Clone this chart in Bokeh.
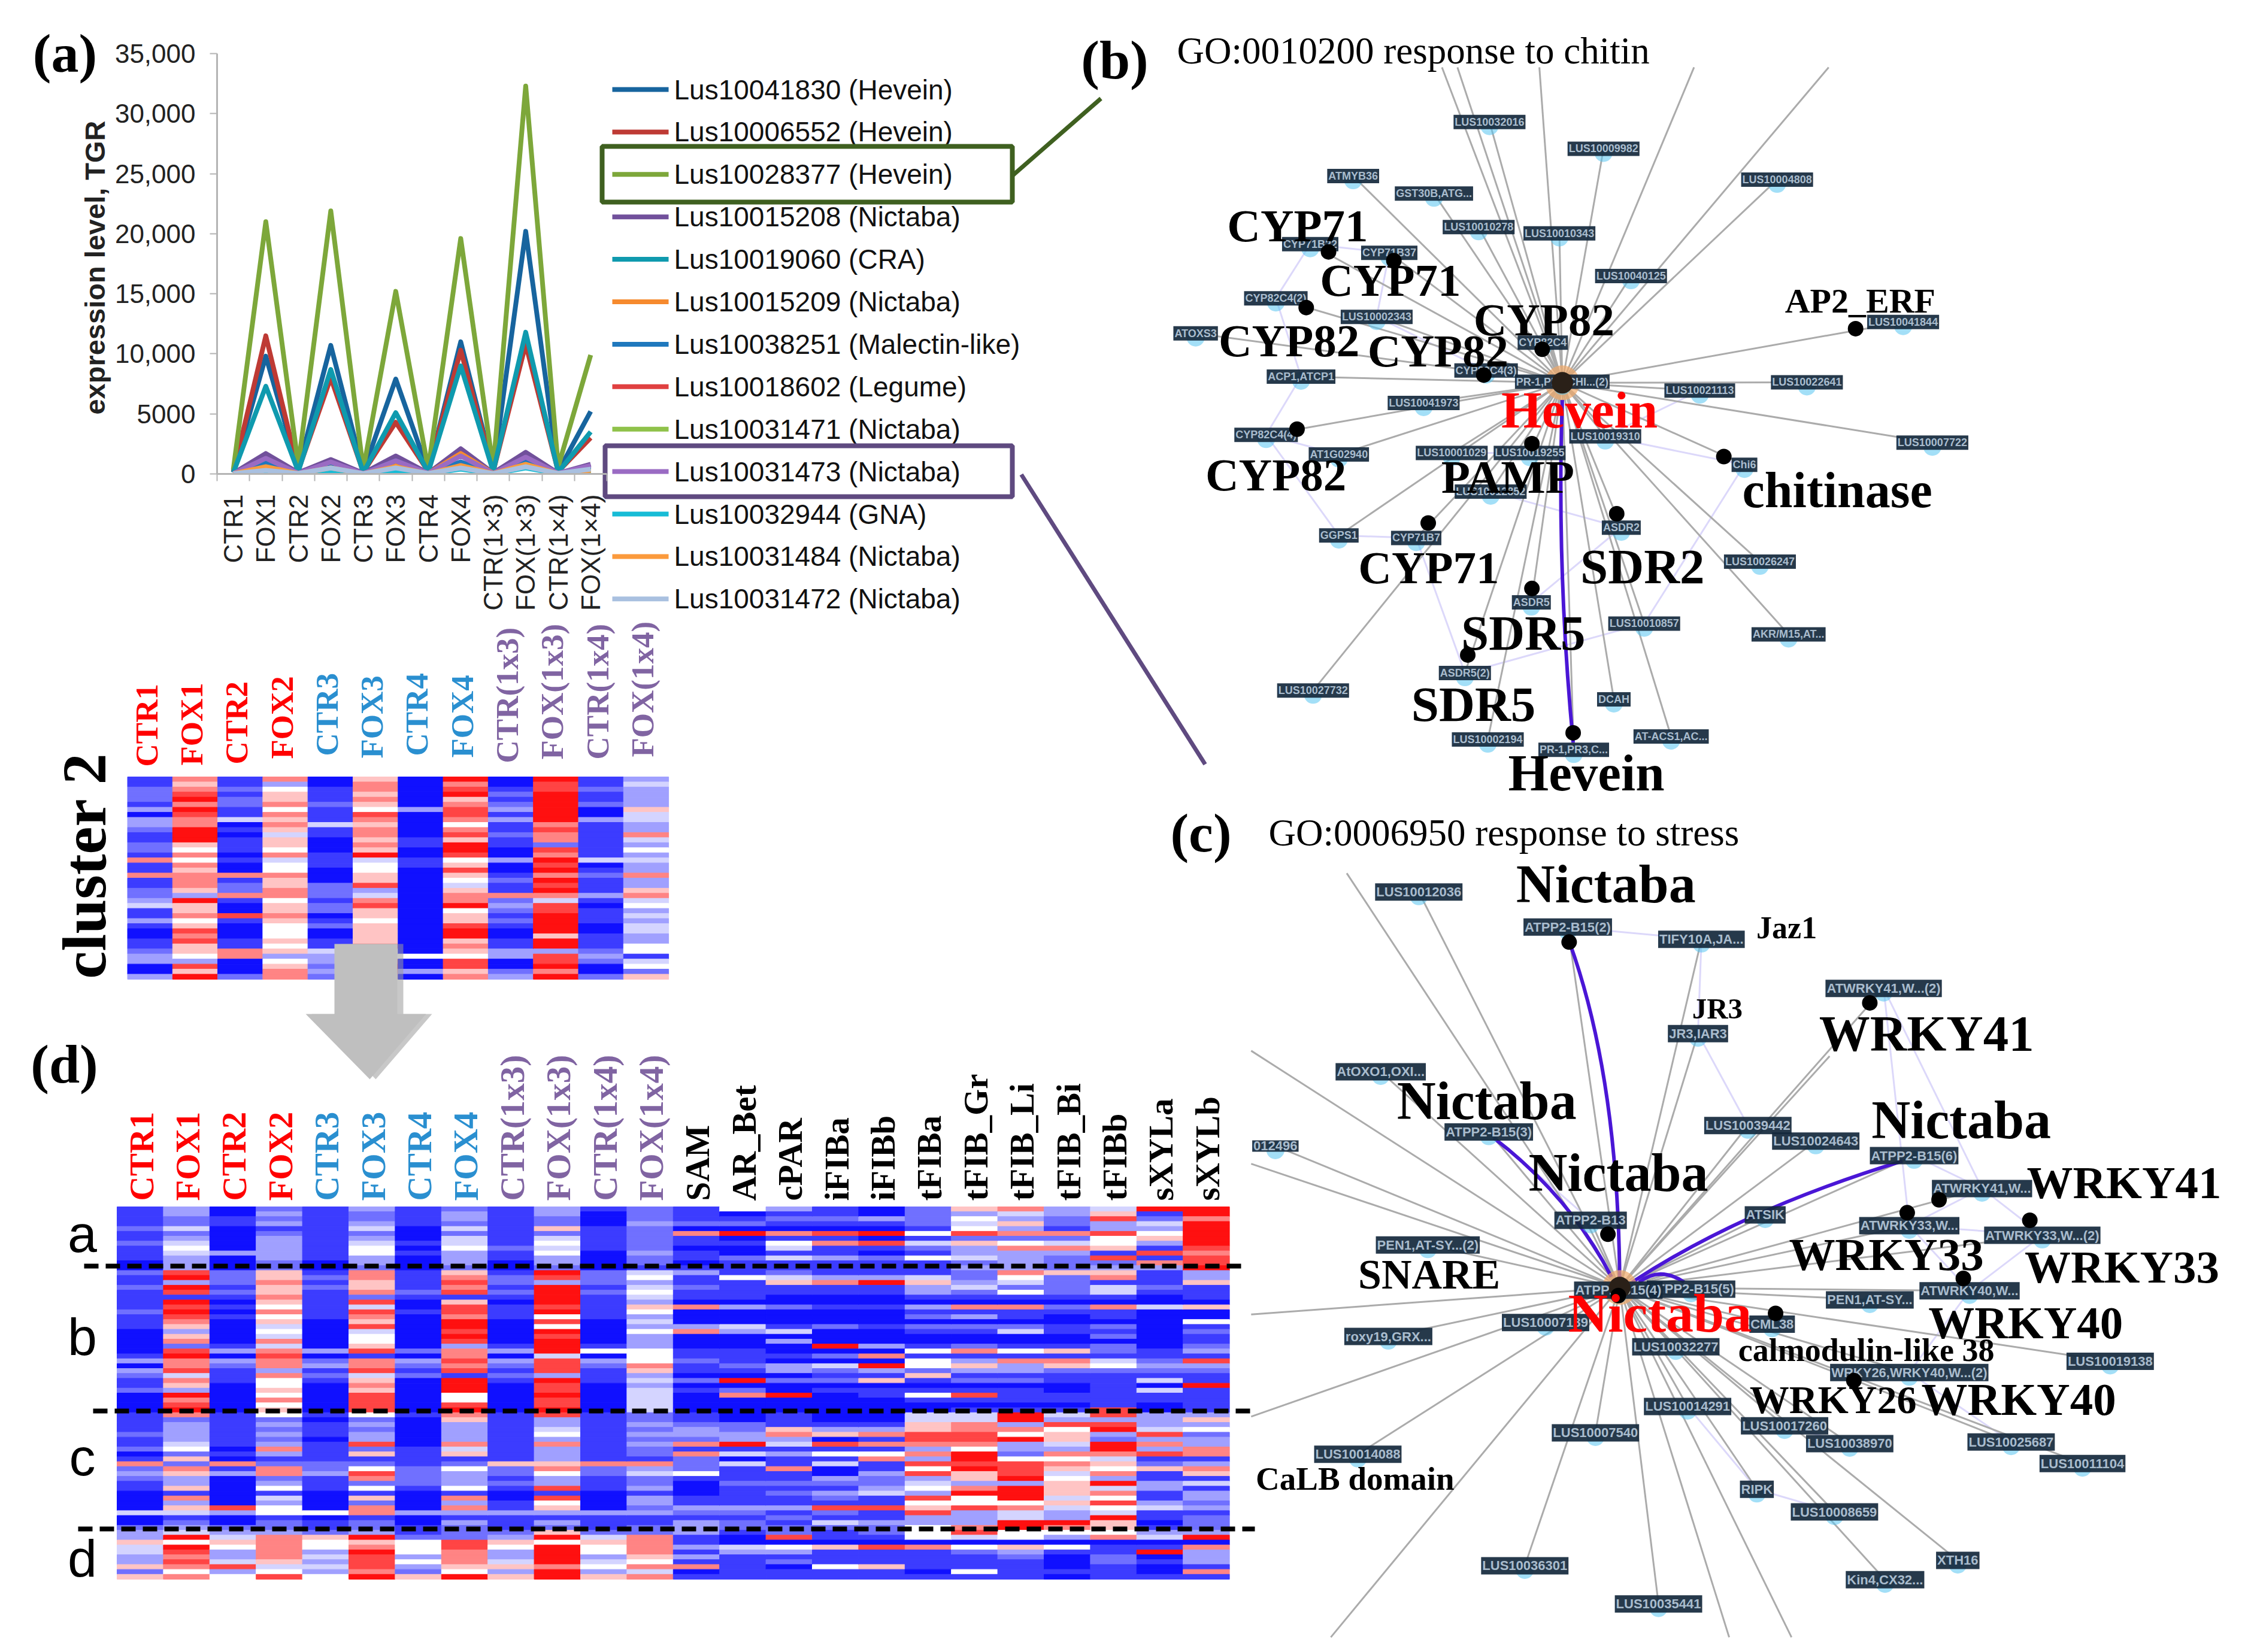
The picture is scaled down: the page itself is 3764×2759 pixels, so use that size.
from bokeh.plotting import figure
from bokeh.layouts import column
from bokeh.embed import file_html
from bokeh.resources import INLINE
from bokeh.core.properties import value
from bokeh.models import FixedTicker, Range1d

# ---------- panel (a) data ----------
samples = ["CTR1","FOX1","CTR2","FOX2","CTR3","FOX3","CTR4","FOX4","CTR(1×3)","FOX(1×3)","CTR(1×4)","FOX(1×4)"]
y_ticks = [0,5000,10000,15000,20000,25000,30000,35000]
y_labels = ["0","5000","10,000","15,000","20,000","25,000","30,000","35,000"]
gene_names = ["Lus10041830 (Hevein)","Lus10006552 (Hevein)","Lus10028377 (Hevein)","Lus10015208 (Nictaba)",
              "Lus10019060 (CRA)","Lus10015209 (Nictaba)","Lus10038251 (Malectin-like)","Lus10018602 (Legume)",
              "Lus10031471 (Nictaba)","Lus10031473 (Nictaba)","Lus10032944 (GNA)","Lus10031484 (Nictaba)","Lus10031472 (Nictaba)"]
gene_colors = ["#17649e","#be3a34","#7da73a","#71509b","#0f9aae","#f68a2e","#1f78bd","#e04040","#8fc24a","#9a6bc3","#17bcd6","#fb9a3c","#a9c0e0"]
lus10041830 = [200,9800,400,10700,200,7900,200,11000,300,20200,200,5200]
lus10006552 = [150,11500,300,8000,150,4300,200,10300,200,10800,200,3000]
lus10028377 = [350,21000,700,21900,350,15200,400,19600,500,32300,600,9900]
lus10015208 = [50,1700,100,1200,60,1500,60,2100,80,1800,60,800]
lus10019060 = [100,7300,200,8700,100,5100,150,9000,200,11800,150,3500]
lus10015209 = [20,800,50,700,30,800,40,1700,50,1000,30,350]
lus10038251 = [30,1000,50,900,30,1100,30,1000,40,1200,30,600]
lus10018602 = [20,500,40,500,30,500,30,600,30,700,30,300]
lus10031471 = [20,400,30,400,20,400,20,500,30,600,20,250]
lus10031473 = [30,1300,50,1000,30,1100,50,1500,50,1400,50,700]
lus10032944 = [10,150,15,150,10,200,10,400,10,500,10,120]
lus10031484 = [20,600,30,500,20,600,20,700,30,800,20,300]
lus10031472 = [20,300,40,500,30,500,40,500,30,600,40,400]
gene_values = [lus10041830,lus10006552,lus10028377,lus10015208,lus10019060,lus10015209,lus10038251,
               lus10018602,lus10031471,lus10031473,lus10032944,lus10031484,lus10031472]

# ---------- heat maps: one digit per row, 0 = blue, 5 = white, 9 = red ----------
heat_palette = ["#1010ff","#3c3cff","#7070ff","#a0a0ff","#d4d4ff","#ffffff","#ffc4c4","#ff8484","#ff4444","#ff1010"]
sample_cols = ["CTR1","FOX1","CTR2","FOX2","CTR3","FOX3","CTR4","FOX4","CTR(1x3)","FOX(1x3)","CTR(1x4)","FOX(1x4)"]
sample_colors = ["#ff0000"]*4 + ["#2a8fd0"]*4 + ["#8064a2"]*4
struct_cols = ["SAM","AR_Bet","cPAR","iFIBa","iFIBb","tFIBa","tFIB_Gr","tFIB_Li","tFIB_Bi","tFIBb","sXYLa","sXYLb"]
heat_a = ["1111211211100","3322423454333","0011000003000","2323123333322","1111111111100","3223423455332",
          "1111000101000","2332424453332","1111111121100","3322624545332","1000111110000","2223222223221",
          "1112071101101","5012090100211","3121071541411","1121081711311","0031090810211","2222151421511",
          "6354582633423","7436372573333","3322172473222","4683385561823","9124356318173","9979999987889"]
heat_b = ["21121111211100000130321120000","89398198987636728977847639789","22212101010000013032111000000",
          "66766765756454747877375565756","12121111110000003023121000000","77667284876845568177846768888",
          "11112100100000002032120000000","67878168879989837787819995589","12212101110000013032121000000",
          "98399998958598999488839889889","22212111110000015032111000000","45345436534353335557634344444",
          "31121107000370001121102010000","15111103000430001112109027000","24611002000140300103302009000",
          "13711001000200090204212010000","13911001000100030709316011000","14633103120210015155261015100",
          "22342107130210027136312018101","75425107110240015173312011101","62222102100110016176211001101",
          "67144107110212022145211111118","11121004000000001123214041100","33611106005121123183211911111"]
heat_c = ["1111211201723211000040023","7233334526276336173641234","1111111010713000000830023",
          "5232323731277235143551223","1011101111223111000050112","5232338261258725162771223",
          "1000000111122221000030011","7633337461253335173731322","1111111111622121001131112",
          "8334537333675338185631326","1111111111722111000031112","2232323221734223133231122",
          "1123327172225100011321333","0022339140411121111321221","1116734131171121211312122",
          "0013608151400321321821421","0013717157113223411811322","4466887373858345385683355",
          "4477887599896637955833378","9937593325888939995744995","4385664375764566646433975",
          "8389329974657394758549665","3334837381261133113411013","3635233771376141332312223"]
heat_d = ["364433626","959878757","465334835","777776458","655343435","967988879",
          "255535326","288777659","365334636","959999799","465534536","777765747",
          "113131701","004311111","805312011","106111511","108111611","507111101",
          "405211151","506321111","305100010","701122111","401901001","907333171"]
cluster2 = ["1122213033211221711711223411310011233003","7678979877999657576777639667568786653869",
            "1121221140101110100712271008100011770002","7356675767646657455766775667655565635677",
            "0011121114110001110002221220120011433232","6776765876776769455668347866566667557876",
            "0000003000001100110000000000000000050030","9789678875786998568654677956689967658867",
            "0012123131121100300121172321210011330023","9889999997877287989798974889999699388979",
            "1121120031111111401211131011100111232002","3433336443374353433733674534344335514526"]
# ---------- network (b): label positions as measured on the figure ----------
b_nodes = [(718,236,"LUS10032016"),(917,288,"LUS10009982"),(480,341,"ATMYB36"),(621,375,"GST30B,ATG..."),(1220,348,"LUS10004808"),
 (699,440,"LUS10010278"),(840,452,"LUS10010343"),(405,473,"CYP71B22"),(543,490,"CYP71B37"),(965,535,"LUS10040125"),
 (345,578,"CYP82C4(2)"),(521,614,"LUS10002343"),(205,646,"ATOXS3"),(1440,624,"LUS10041844"),(811,664,"CYP82C4"),
 (389,730,"ACP1,ATCP1"),(712,718,"CYP82C4(3)"),(1085,757,"LUS10021113"),(1272,741,"LUS10022641"),(603,781,"LUS10041973"),
 (328,843,"CYP82C4(4)"),(920,846,"LUS10019310"),(1491,858,"LUS10007722"),(455,881,"AT1G02940"),(652,878,"LUS10001029"),
 (788,878,"LUS10019255"),(720,953,"LUS10012852"),(1163,901,"Chi6"),(948,1023,"ASDR2"),(455,1038,"GGPS1"),(590,1043,"CYP71B7"),
 (1190,1089,"LUS10026247"),(791,1168,"ASDR5"),(988,1209,"LUS10010857"),(1240,1230,"AKR/M15,AT..."),(675,1305,"ASDR5(2)"),
 (410,1339,"LUS10027732"),(935,1356,"DCAH"),(715,1434,"LUS10002194"),(865,1454,"PR-1,PR3,C..."),(1035,1428,"AT-ACS1,AC..."),
 (845,740,"PR-1,PR3,CHI...(2)")]
b_hub = (845,742)
b_offcut = [(635,130),(662,130),(805,130),(1075,130),(1310,130)]
b_faint = [(7,8),(7,10),(10,15),(15,20),(20,29),(29,30),(30,35),(8,11),(11,16),(20,23),(24,25),(26,28),(28,32),(21,27),(27,33),(17,21),(33,35)]
b_dots = [(437,488),(551,505),(398,596),(810,677),(708,727),(1357,637),(382,832),(792,860),(1127,885),(611,1014),(940,996),(792,1141),(680,1270),(864,1421)]
b_labels = [(383,437,"CYP71",77,"black"),(545,543,"CYP71",77,"black"),(368,660,"CYP82",77,"black"),(628,680,"CYP82",77,"black"),
 (813,620,"CYP82",77,"black"),(875,795,"Hevein",87,"#ff0000"),(1365,583,"AP2_ERF",58,"black"),(345,920,"CYP82",77,"black"),
 (750,925,"PAMP",79,"black"),(1325,950,"chitinase",84,"black"),(612,1100,"CYP71",77,"black"),(985,1098,"SDR2",83,"black"),
 (777,1227,"SDR5",83,"black"),(690,1365,"SDR5",83,"black"),(887,1498,"Hevein",87,"black")]
# ---------- network (c) ----------
c_nodes = [(362,155,"LUS10012036"),(577,220,"ATPP2-B15(2)"),(770,243,"TIFY10A,JA..."),(1033,334,"ATWRKY41,W...(2)"),(765,418,"JR3,IAR3"),
 (307,489,"AtOXO1,OXI..."),(155,627,"012496"),(463,601,"ATPP2-B15(3)"),(837,589,"LUS10039442"),(935,618,"LUS10024643"),
 (1077,645,"ATPP2-B15(6)"),(1175,706,"ATWRKY41,W..."),(610,765,"ATPP2-B13"),(862,755,"ATSIK"),(1070,775,"ATWRKY33,W..."),
 (1262,793,"ATWRKY33,W...(2)"),(375,811,"PEN1,AT-SY...(2)"),(755,893,"ATPP2-B15(5)"),(1157,896,"ATWRKY40,W..."),
 (1013,913,"PEN1,AT-SY..."),(545,955,"LUS10007139"),(872,958,"CML38"),(318,981,"roxy19,GRX..."),(733,1000,"LUS10032277"),
 (1360,1027,"LUS10019138"),(1070,1048,"WRKY26,WRKY40,W...(2)"),(750,1111,"LUS10014291"),(890,1147,"LUS10017260"),(984,1180,"LUS10038970"),
 (1217,1177,"LUS10025687"),(1320,1217,"LUS10011104"),(617,1160,"LUS10007540"),(274,1200,"LUS10014088"),(850,1265,"RIPK"),
 (962,1307,"LUS10008659"),(1140,1397,"XTH16"),(1035,1433,"Kin4,CX32..."),(515,1407,"LUS10036301"),(708,1478,"LUS10035441"),
 (650,895,"ATPP2-B15(4)")]
c_hub = (652,890)
c_offcut = [(258,120),(120,450),(120,660),(120,940),(120,1130),(235,1540),(810,1540),(900,1540),(955,460)]
c_faint = [(1,2),(3,11),(3,14),(11,14),(11,15),(14,15),(14,18),(15,18),(18,25),(10,11),(4,8),(2,4),(26,33),(33,34),(27,28),(25,29),(7,12)]
c_dots = [(579,248),(1013,361),(635,791),(1067,751),(1113,727),(1244,765),(1148,873),(877,938),(990,1063),(650,905)]
c_labels = [(632,140,"Nictaba",90,"black"),(893,222,"Jaz1",52,"black"),(793,372,"JR3",49,"black"),(1095,418,"WRKY41",85,"black"),
 (460,543,"Nictaba",90,"black"),(1145,579,"Nictaba",90,"black"),(650,677,"Nictaba",90,"black"),(1380,695,"WRKY41",77,"black"),
 (1037,828,"WRKY33",77,"black"),(377,866,"SNARE",70,"black"),(1377,852,"WRKY33",77,"black"),(1238,955,"WRKY40",77,"black"),
 (710,938,"Nictaba",92,"#ff0000"),(1008,1007,"calmodulin-like 38",54,"black"),(960,1098,"WRKY26",66,"black"),(1228,1098,"WRKY40",77,"black"),
 (270,1245,"CaLB domain",55,"black")]

# ---------- page in image pixels ----------
W, H = 3748, 2743
p = figure(width=W, height=H, x_range=Range1d(0, W), y_range=Range1d(H, 0),
           output_backend="svg", toolbar_location=None, min_border=0)
p.frame_align = False
p.axis.visible = False
p.grid.visible = False
p.outline_line_color = None

def big(xs, ys, ts, size, color, align="center", angle=0.0, base="middle", style="bold", font="Liberation Serif"):
    p.text(xs, ys, text=ts, text_font=value(font), text_font_size=f"{size}px", text_color=color,
           text_font_style=style, text_align=align, text_baseline=base, angle=angle)

def heat(x0, col_w, y0, row_h, cols):
    L, R, T, B, C = [], [], [], [], []
    for i, c in enumerate(cols):
        for k, ch in enumerate(c):
            L.append(x0+i*col_w); R.append(x0+(i+1)*col_w)
            T.append(y0+k*row_h); B.append(y0+(k+1)*row_h)
            C.append(heat_palette[int(ch)])
    p.quad(left=L, right=R, top=T, bottom=B, fill_color=C, line_color=C, line_width=1)

# legend of panel (a) and connector frames
leg_y = [149+70.9*i for i in range(len(gene_names))]
p.segment([1022]*13, leg_y, [1116]*13, leg_y, line_color=gene_colors, line_width=8)
p.text([1125]*13, leg_y, text=gene_names, text_font=value("Liberation Sans"), text_font_size="46px",
       text_color="#111111", text_align="left", text_baseline="middle")
p.line([1690,1838],[293,164], line_color="#3f6020", line_width=7)
p.line([1705,2012],[792,1276], line_color="#5f4a80", line_width=7)
p.quad(left=[1005], right=[1690], top=[244], bottom=[337], fill_color=None, line_color="#3f6020", line_width=8)
p.quad(left=[1010], right=[1690], top=[744], bottom=[829], fill_color=None, line_color="#5f4a80", line_width=8)

# cluster 2
heat(212.5, 75.3, 1297, 338/40, cluster2)
c2_bottom = [1280,1278,1276,1267,1262,1266,1262,1265,1274,1268,1268,1264]
for i, lab in enumerate(sample_cols):
    big([212.5+75.3*(i+.5)-6], [c2_bottom[i]], [lab], 53, sample_colors[i], align="left", angle=1.5708)
big([140],[1445],["cluster 2"],104,"black",angle=1.5708)

# heat d
all_cols = [a+b+c+d for a,b,c,d in zip(heat_a,heat_b,heat_c,heat_d)]
heat(195, 77.4, 2015, 622/76, all_cols)
for i, lab in enumerate(sample_cols+struct_cols):
    big([195+77.4*(i+.5)+2], [2005], [lab], 57, (sample_colors+["#000000"]*12)[i], align="left", angle=1.5708)

# arrow
ax = [558,663,663,711,617,510,558]; ay = [1576,1576,1693,1693,1802,1693,1693]
p.patch([v+10 for v in ax], ay, fill_color="#9a9a9a", fill_alpha=.55, line_color=None)
p.patch(ax, ay, fill_color="#bfbfbf", line_color=None)

# dashed separators
for x0,x1,y in [(140,2078,2114),(155,2090,2356),(130,2095,2553)]:
    p.line([x0,x1],[y,y], line_color="black", line_width=8, line_dash="24 12")
for t,y in [("a",2060),("b",2232),("c",2433),("d",2602)]:
    big([137],[y],[t],88,"black",style="normal",font="Liberation Sans")

# networks
def network(nodes, hub, offcut, faint, dots, labels, fx, fy, lab_size, curves):
    pts = [(n[0],n[1]) for n in nodes]
    p.segment([fx(pts[a][0]) for a,b in faint],[fy(pts[a][1]) for a,b in faint],
              [fx(pts[b][0]) for a,b in faint],[fy(pts[b][1]) for a,b in faint],
              line_color="#dcd8fa", line_width=3)
    ends = pts[:-1] + offcut
    p.segment([fx(hub[0])]*len(ends),[fy(hub[1])]*len(ends),[fx(e[0]) for e in ends],[fy(e[1]) for e in ends],
              line_color="#ababab", line_width=3)
    for (a,b,c,d,e,f) in curves:
        p.quadratic(x0=[fx(a)],y0=[fy(b)],x1=[fx(c)],y1=[fy(d)],cx=[fx(e)],cy=[fy(f)],line_color="#4a16d6",line_width=6)
    p.scatter([fx(hub[0])],[fy(hub[1])],size=58,fill_color="#f0a868",fill_alpha=.7,line_color=None)
    p.scatter([fx(x) for x,y in pts],[fy(y)+7 for x,y in pts],size=30,fill_color="#58c4f0",fill_alpha=.55,line_color=None)
    p.text([fx(n[0]) for n in nodes],[fy(n[1]) for n in nodes],text=[n[2] for n in nodes],
           text_font=value("Liberation Sans"),text_font_style="bold",text_font_size=f"{lab_size}px",
           text_color="#a9bccd",text_align="center",text_baseline="middle",
           background_fill_color="#14283c",background_fill_alpha=.92,padding=2)
    p.scatter([fx(hub[0])],[fy(hub[1])],size=36,fill_color="#2a2018",line_color=None)
    p.scatter([fx(x) for x,y in dots],[fy(y) for x,y in dots],size=26,fill_color="black",line_color=None)
    for x,y,t,s,c in labels:
        big([fx(x)],[fy(y)],[t],s,c)

network(b_nodes,b_hub,b_offcut,b_faint,b_dots,b_labels,lambda X:1800+X/1.0453,lambda Y:Y/1.1615,18,
        [(845,775,864,1440,835,1100)])
network(c_nodes,c_hub,c_offcut,c_faint,c_dots,c_labels,lambda X:1950+X/.8644,lambda Y:1350+Y/1.1128,22,
        [(652,880,580,250,650,500),(640,870,470,612,580,720),(670,880,1060,655,830,745),(680,880,745,880,710,850)])

# titles and panel letters
big([1965],[84],["GO:0010200  response to chitin"],63,"black",align="left",style="normal")
big([2118],[1390],["GO:0006950 response to stress"],63,"black",align="left",style="normal")
for t,x,y in [("(a)",108,88),("(b)",1861,99),("(c)",2005,1390),("(d)",107,1776)]:
    big([x],[y],[t],92,"black")

# ---------- panel (a) chart with its own axes ----------
chart_w, chart_h = 1020, 1060
c = figure(x_range=Range1d(0,12), y_range=Range1d(0,35000), frame_width=651, frame_height=702,
           width=chart_w, height=chart_h, min_border_left=362, min_border_top=89, min_border_right=chart_w-362-651,
           min_border_bottom=chart_h-89-702, output_backend="svg", toolbar_location=None,
           background_fill_alpha=0, border_fill_alpha=0)
c.frame_align = False
c.grid.visible = False
c.outline_line_color = None
centres = [i+.5 for i in range(12)]
c.xaxis.ticker = FixedTicker(ticks=centres, minor_ticks=list(range(13)))
c.xaxis.major_label_overrides = {v:s for v,s in zip(centres,samples)}
c.xaxis.major_label_orientation = 1.5708
c.xaxis.major_label_text_font = "Liberation Sans"
c.xaxis.major_label_text_font_size = "44px"
c.xaxis.major_label_text_color = "#222222"
c.xaxis.major_label_standoff = 22
c.xaxis.major_tick_out = 0; c.xaxis.major_tick_in = 0
c.xaxis.minor_tick_out = 12; c.xaxis.minor_tick_in = 0
c.xaxis.minor_tick_line_color = "#b4b4b4"; c.xaxis.minor_tick_line_width = 2
c.xaxis.axis_line_color = "#b4b4b4"; c.xaxis.axis_line_width = 3
c.yaxis.ticker = FixedTicker(ticks=y_ticks)
c.yaxis.major_label_overrides = {v:s for v,s in zip(y_ticks,y_labels)}
c.yaxis.major_label_text_font = "Liberation Sans"
c.yaxis.major_label_text_font_size = "44px"
c.yaxis.major_label_text_color = "#222222"
c.yaxis.major_label_standoff = 24
c.yaxis.major_tick_out = 12; c.yaxis.major_tick_in = 0
c.yaxis.major_tick_line_color = "#b4b4b4"; c.yaxis.major_tick_line_width = 2
c.yaxis.minor_tick_line_color = None
c.yaxis.axis_line_color = "#b4b4b4"; c.yaxis.axis_line_width = 3
c.yaxis.axis_label = "expression  level, TGR"
c.yaxis.axis_label_text_font = "Liberation Sans"
c.yaxis.axis_label_text_font_style = "bold"
c.yaxis.axis_label_text_font_size = "47px"
c.yaxis.axis_label_text_color = "#222222"
c.yaxis.axis_label_standoff = 4
for col, vals in zip(gene_colors, gene_values):
    c.line(centres, vals, line_color=col, line_width=8, line_join="round")
c.margin = (-H, 0, 0, 0)

layout = column(p, c)
open("out.html","w").write(file_html(layout, INLINE))
